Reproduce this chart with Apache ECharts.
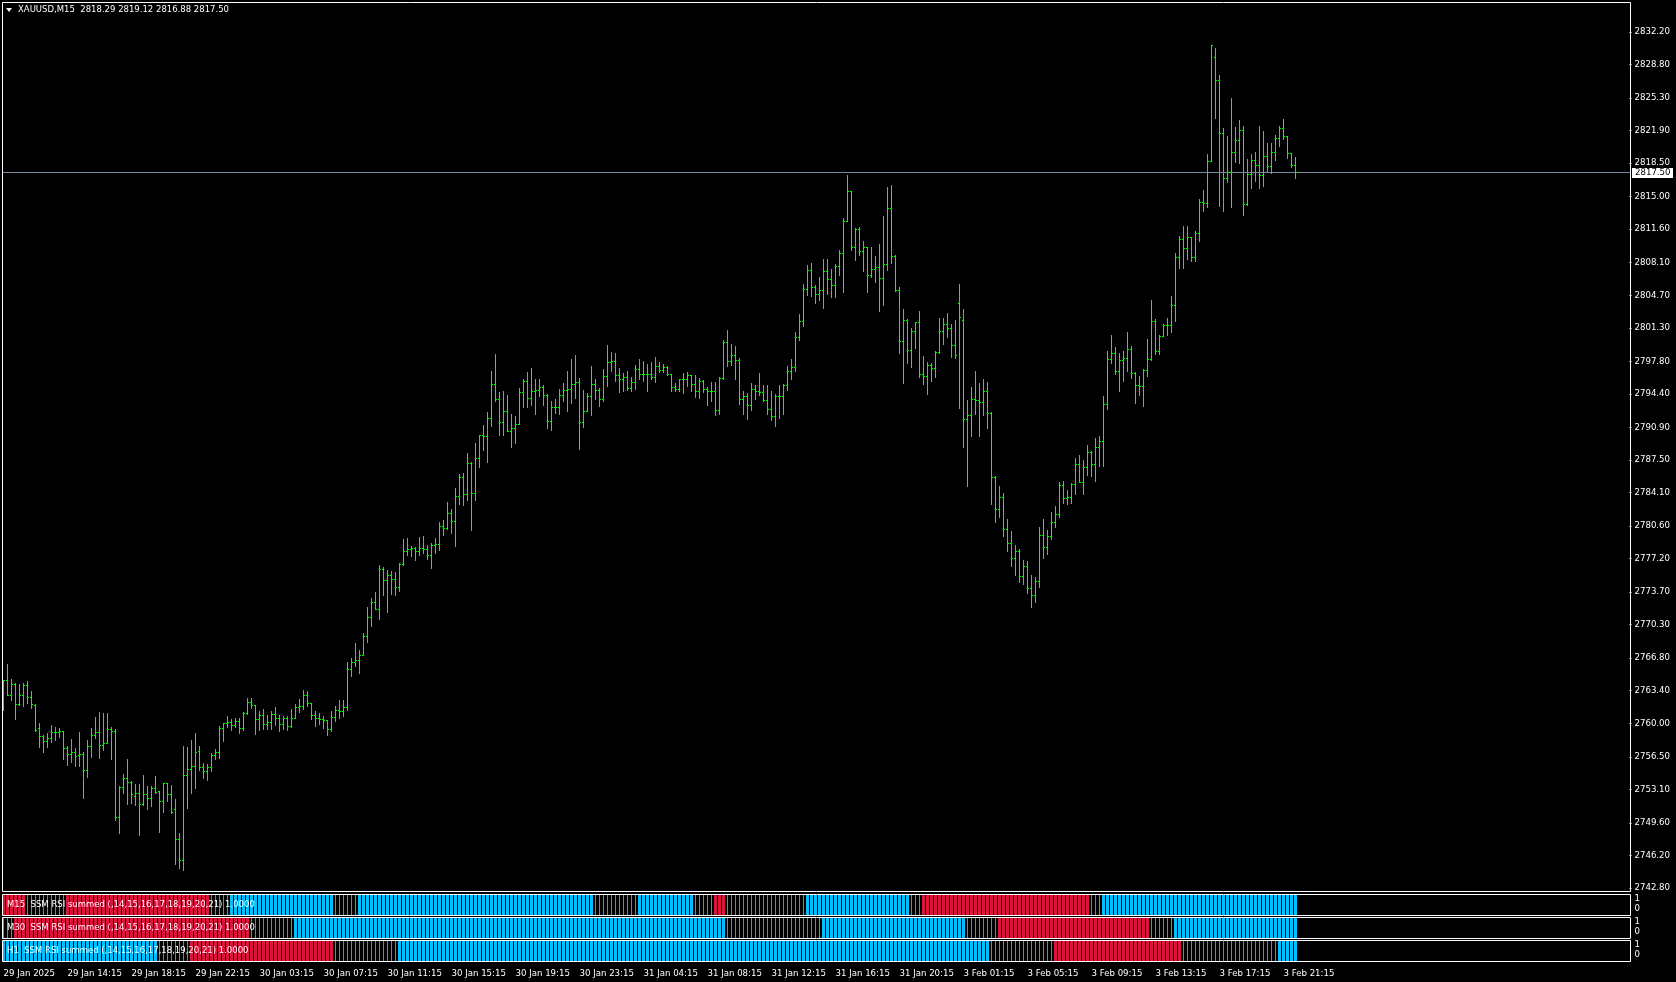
<!DOCTYPE html>
<html>
<head>
<meta charset="utf-8">
<script src="https://cdn.jsdelivr.net/npm/echarts@6.0.0/dist/echarts.min.js"></script>
<style>
html,body{margin:0;padding:0;background:#000;overflow:hidden}
#chart{width:1676px;height:982px}
</style>
</head>
<body>
<div id="chart"></div>
<script>
// ---------------- DATA ----------------
const symbolInfo = 'XAUUSD,M15  2818.29 2819.12 2816.88 2817.50';
const timeLabels = ['29 Jan 2025','29 Jan 14:15','29 Jan 18:15','29 Jan 22:15','30 Jan 03:15','30 Jan 07:15','30 Jan 11:15','30 Jan 15:15','30 Jan 19:15','30 Jan 23:15','31 Jan 04:15','31 Jan 08:15','31 Jan 12:15','31 Jan 16:15','31 Jan 20:15','3 Feb 01:15','3 Feb 05:15','3 Feb 09:15','3 Feb 13:15','3 Feb 17:15','3 Feb 21:15'];
const priceTickLabels = ['2742.80','2746.20','2749.60','2753.10','2756.50','2760.00','2763.40','2766.80','2770.30','2773.70','2777.20','2780.60','2784.10','2787.50','2790.90','2794.40','2797.80','2801.30','2804.70','2808.10','2811.60','2815.00','2818.50','2821.90','2825.30','2828.80','2832.20'];
const lastPrice = 2817.50;
const indicatorName = 'SSM RSI summed (,14,15,16,17,18,19,20,21) 1.0000';
const panelTimeframes = ['M15','M30','H1'];

const open = [
2762.4,2764.5,2762.9,2764.1,2762.0,2762.9,2763.9,2762.7,2761.9,2759.5,
2758.6,2758.1,2758.4,2759.0,2759.0,2759.1,2757.4,2756.7,2756.9,2756.6,
2756.7,2755.1,2757.6,2758.7,2759.0,2757.7,2757.9,2759.3,2759.1,2750.2,
2753.3,2754.2,2753.8,2752.4,2752.7,2751.5,2752.6,2752.1,2753.2,2752.9,
2751.8,2753.7,2752.6,2751.0,2747.9,2745.7,2754.5,2755.2,2755.5,2757.1,
2755.4,2755.0,2755.4,2756.6,2756.9,2759.5,2760.0,2760.1,2759.8,2760.2,
2759.5,2761.0,2762.2,2761.9,2760.4,2760.8,2759.9,2760.1,2760.9,2760.5,
2759.9,2760.5,2759.7,2760.5,2761.6,2761.8,2762.9,2762.1,2760.8,2760.5,
2760.4,2760.3,2759.3,2760.6,2761.3,2761.2,2761.6,2765.6,2766.4,2766.6,
2767.1,2769.1,2771.0,2772.6,2771.9,2776.1,2774.9,2775.4,2775.0,2774.2,
2776.6,2777.9,2778.2,2778.3,2777.9,2778.3,2778.1,2777.5,2778.6,2778.7,
2780.5,2780.3,2781.9,2781.1,2783.7,2785.7,2783.9,2787.1,2784.0,2787.7,
2790.1,2789.9,2791.8,2795.4,2793.8,2791.4,2792.6,2790.5,2790.8,2791.2,
2794.5,2795.7,2793.9,2794.7,2794.8,2795.1,2794.2,2791.5,2793.0,2793.0,
2794.2,2794.8,2794.9,2795.4,2795.6,2791.4,2792.6,2794.1,2795.4,2794.8,
2793.8,2796.2,2797.7,2797.8,2796.3,2795.9,2796.1,2795.0,2795.6,2797.0,
2796.4,2796.4,2796.4,2796.1,2797.3,2796.8,2797.2,2796.4,2795.1,2794.9,
2795.9,2795.9,2796.3,2795.4,2794.7,2795.7,2794.9,2794.6,2794.6,2792.7,
2796.0,2799.8,2797.8,2798.4,2797.9,2793.8,2794.1,2793.2,2794.9,2794.6,
2794.5,2793.7,2792.8,2792.0,2794.1,2794.1,2795.3,2796.7,2797.2,2800.3,
2802.0,2805.3,2807.3,2805.5,2804.8,2805.2,2807.2,2806.4,2805.7,2807.7,
2809.1,2812.4,2815.5,2809.7,2811.6,2809.3,2809.7,2806.8,2807.4,2807.6,
2806.5,2807.9,2813.8,2808.7,2805.2,2799.9,2802.1,2798.9,2800.9,2801.9,
2796.4,2796.2,2797.4,2797.1,2798.7,2800.9,2801.7,2801.2,2799.5,2803.8,
2802.1,2791.7,2792.1,2793.8,2793.7,2793.5,2794.7,2792.4,2785.7,2782.3,
2783.6,2780.2,2778.8,2777.2,2777.9,2775.3,2776.4,2774.1,2773.3,2774.8,
2779.6,2778.4,2779.5,2781.0,2781.8,2784.8,2783.5,2783.6,2784.9,2787.0,
2785.1,2786.7,2788.3,2787.0,2788.8,2789.4,2793.3,2798.0,2798.6,2796.7,
2797.9,2798.1,2799.0,2796.5,2795.3,2795.2,2796.8,2798.0,2802.0,2798.8,
2800.4,2801.5,2801.5,2803.6,2808.6,2810.5,2809.6,2810.7,2808.6,2811.2,
2814.4,2814.3,2818.7,2829.5,2827.1,2821.6,2816.9,2817.5,2819.6,2820.9,
2821.9,2814.2,2817.3,2818.8,2818.3,2817.2,2819.2,2818.2,2819.6,2821.1,
2822.1,2821.3,2819.5,2818.29];
const high = [
2764.5,2766.1,2764.6,2764.2,2764.0,2764.2,2764.4,2763.3,2762.0,2760.0,
2758.7,2758.9,2759.8,2759.6,2759.5,2759.1,2757.6,2758.3,2757.4,2759.0,
2756.9,2758.2,2759.5,2760.6,2761.1,2761.0,2761.0,2759.6,2759.3,2753.4,
2754.6,2756.2,2753.9,2753.6,2753.6,2754.5,2753.4,2753.4,2754.4,2752.9,
2753.7,2753.7,2753.5,2752.0,2748.5,2757.6,2757.5,2758.2,2758.9,2757.6,
2755.8,2755.7,2756.8,2757.3,2759.7,2760.0,2760.7,2760.4,2760.5,2760.5,
2761.1,2762.6,2762.6,2761.9,2761.2,2761.4,2760.8,2761.2,2761.6,2760.8,
2760.7,2760.7,2761.4,2762.0,2762.5,2763.4,2763.3,2762.1,2761.2,2761.0,
2760.7,2760.3,2761.2,2761.8,2762.4,2762.4,2766.4,2766.8,2768.3,2767.6,
2769.4,2772.1,2773.0,2773.7,2776.5,2776.3,2776.0,2775.9,2775.7,2776.7,
2779.2,2779.3,2778.5,2778.4,2779.4,2779.5,2778.6,2778.8,2779.3,2781.0,
2781.2,2783.1,2782.3,2784.5,2786.0,2786.1,2788.2,2787.2,2789.2,2790.1,
2791.1,2792.5,2796.7,2798.5,2794.5,2794.6,2794.2,2792.2,2792.0,2795.0,
2795.9,2796.6,2797.1,2795.9,2795.9,2795.3,2794.3,2793.6,2793.8,2794.9,
2795.5,2796.7,2798.0,2798.4,2796.0,2794.8,2794.4,2797.3,2795.9,2795.0,
2796.9,2799.5,2798.7,2798.6,2797.1,2796.5,2796.7,2796.1,2797.4,2798.0,
2797.8,2797.5,2797.7,2798.2,2797.7,2797.5,2797.3,2796.4,2795.5,2795.9,
2796.5,2796.6,2796.3,2796.3,2796.0,2795.8,2795.1,2795.6,2795.6,2796.1,
2800.0,2801.0,2799.6,2799.4,2798.1,2794.7,2794.4,2795.5,2795.3,2796.5,
2795.3,2795.3,2794.7,2794.3,2795.3,2795.4,2797.3,2798.0,2800.8,2802.7,
2805.8,2807.8,2808.0,2805.7,2806.6,2808.4,2808.4,2807.4,2807.9,2809.4,
2812.7,2817.2,2815.5,2811.7,2811.8,2810.3,2809.7,2809.7,2808.7,2810.0,
2812.9,2816.0,2816.2,2808.9,2805.5,2803.2,2802.2,2801.2,2801.9,2803.0,
2798.3,2797.7,2797.6,2798.8,2802.3,2802.3,2802.8,2801.6,2802.1,2805.8,
2803.2,2793.7,2795.1,2796.7,2795.5,2795.9,2795.6,2792.5,2785.8,2784.7,
2784.0,2781.3,2780.0,2778.6,2778.2,2777.0,2776.9,2775.4,2775.2,2780.4,
2781.3,2780.1,2782.0,2782.6,2785.1,2785.2,2784.3,2785.0,2787.7,2788.0,
2787.4,2789.0,2788.4,2789.7,2790.0,2794.1,2798.8,2800.5,2799.2,2798.6,
2798.8,2800.8,2799.3,2796.6,2796.2,2796.9,2800.1,2804.2,2802.2,2800.5,
2801.6,2802.3,2804.6,2809.1,2810.8,2811.9,2811.9,2810.7,2811.4,2814.7,
2815.6,2819.4,2830.8,2830.5,2827.7,2822.1,2821.3,2825.3,2822.2,2823.0,
2822.3,2818.9,2819.4,2819.6,2822.3,2821.8,2820.6,2820.5,2821.4,2822.3,
2823.1,2821.3,2819.5,2819.12];
const low = [
2761.3,2762.9,2762.4,2760.4,2761.9,2761.8,2762.1,2761.5,2759.1,2757.5,
2757.0,2757.5,2758.0,2758.2,2758.5,2756.2,2755.6,2755.9,2755.5,2755.5,
2752.1,2754.3,2756.4,2758.4,2756.3,2757.2,2757.9,2756.2,2749.8,2748.5,
2752.7,2751.5,2751.6,2751.4,2748.3,2751.4,2751.0,2751.3,2752.7,2748.6,
2750.7,2751.8,2750.6,2745.3,2744.8,2744.6,2751.1,2752.7,2753.2,2755.1,
2754.2,2754.0,2755.0,2756.2,2756.3,2758.1,2759.6,2759.2,2759.6,2758.9,
2759.2,2760.9,2761.5,2758.8,2759.2,2759.4,2759.4,2759.4,2759.8,2759.1,
2759.4,2759.2,2759.6,2760.5,2761.1,2761.4,2761.8,2760.4,2759.7,2759.9,
2759.5,2758.7,2759.1,2760.2,2760.5,2760.7,2761.3,2764.9,2765.9,2765.2,
2767.1,2768.4,2770.1,2771.9,2770.8,2773.3,2771.6,2773.5,2773.3,2773.8,
2776.5,2777.5,2777.4,2777.0,2777.5,2777.7,2777.1,2776.2,2777.7,2778.0,
2779.6,2780.2,2779.8,2778.5,2782.9,2782.7,2783.3,2780.1,2783.3,2786.7,
2788.5,2787.2,2791.0,2793.6,2790.1,2790.1,2790.5,2788.8,2789.2,2791.2,
2793.0,2793.0,2793.2,2792.2,2794.1,2793.2,2790.8,2790.6,2792.4,2792.2,
2793.6,2792.6,2793.4,2793.9,2788.6,2790.9,2792.6,2792.1,2793.8,2793.1,
2793.6,2795.2,2796.7,2795.7,2794.5,2794.6,2794.8,2794.6,2794.9,2795.9,
2795.7,2794.7,2795.9,2795.6,2796.6,2796.6,2796.3,2794.6,2794.7,2794.7,
2794.4,2795.2,2794.7,2794.0,2793.9,2794.5,2793.2,2793.6,2792.1,2792.2,
2795.9,2797.3,2797.4,2795.9,2793.3,2792.3,2791.7,2792.7,2793.8,2794.2,
2793.6,2792.2,2791.6,2791.0,2791.8,2792.3,2794.8,2795.9,2796.7,2800.0,
2801.4,2804.7,2804.6,2803.8,2804.2,2803.3,2804.8,2804.5,2804.5,2806.8,
2805.0,2812.4,2809.4,2808.3,2808.9,2807.2,2805.0,2806.6,2806.0,2803.0,
2803.6,2807.3,2808.0,2805.1,2798.6,2795.5,2797.6,2797.2,2799.1,2796.1,
2795.4,2794.3,2795.7,2796.1,2798.6,2799.6,2800.3,2798.2,2798.1,2792.9,
2788.8,2784.7,2789.9,2792.3,2790.0,2792.1,2790.8,2782.8,2781.0,2781.5,
2779.5,2777.9,2776.4,2775.4,2774.7,2774.5,2773.6,2772.1,2772.6,2774.2,
2777.2,2777.6,2779.2,2780.4,2781.5,2783.0,2782.8,2783.0,2783.9,2785.1,
2783.9,2785.9,2785.8,2785.3,2786.8,2786.8,2792.8,2797.6,2796.4,2794.6,
2795.7,2796.7,2796.0,2793.4,2794.2,2793.1,2796.2,2797.9,2798.5,2798.5,
2800.4,2800.5,2800.8,2802.0,2807.5,2807.5,2808.4,2808.2,2808.2,2810.3,
2813.4,2813.9,2818.7,2823.2,2814.0,2813.5,2816.5,2813.9,2818.6,2818.5,
2813.0,2814.1,2815.9,2816.6,2815.9,2816.1,2817.6,2817.4,2818.8,2820.2,
2821.0,2819.0,2818.0,2816.88];
const close = [
2764.5,2762.9,2764.1,2762.0,2762.9,2763.9,2762.7,2762.0,2759.2,2758.6,
2758.1,2758.4,2759.0,2759.0,2759.1,2757.4,2756.7,2756.9,2756.5,2756.7,
2755.1,2757.6,2758.7,2759.0,2757.7,2757.9,2759.3,2759.1,2750.2,2753.3,
2754.2,2753.8,2752.6,2752.7,2751.5,2752.6,2752.1,2753.2,2752.8,2751.8,
2753.7,2752.6,2750.7,2747.9,2745.7,2754.5,2755.2,2755.5,2756.9,2755.4,
2755.0,2755.4,2756.6,2756.9,2759.5,2760.0,2760.1,2759.8,2760.2,2759.5,
2761.0,2762.2,2761.9,2760.4,2760.8,2759.9,2760.1,2760.9,2760.5,2759.9,
2760.5,2759.7,2760.5,2761.6,2761.8,2762.9,2762.1,2760.8,2760.5,2760.4,
2760.3,2759.3,2760.6,2761.3,2761.2,2761.6,2765.6,2766.4,2766.6,2767.1,
2769.1,2771.0,2772.6,2771.9,2776.1,2774.9,2775.4,2775.0,2774.2,2776.6,
2777.9,2778.2,2778.3,2777.9,2778.3,2778.1,2777.5,2778.6,2778.7,2780.5,
2780.3,2781.9,2781.1,2783.7,2785.7,2783.9,2787.1,2784.0,2787.7,2790.1,
2789.9,2791.8,2795.4,2793.8,2791.4,2792.6,2790.5,2790.8,2791.2,2794.5,
2795.7,2793.9,2794.7,2794.8,2795.1,2794.2,2791.5,2793.0,2793.0,2794.2,
2794.8,2794.9,2795.4,2795.6,2791.4,2792.6,2794.1,2795.4,2794.8,2793.8,
2796.2,2797.7,2797.8,2796.3,2795.9,2796.1,2795.0,2795.6,2797.0,2796.4,
2796.4,2796.4,2796.1,2797.3,2796.8,2797.2,2796.4,2795.1,2794.9,2795.9,
2795.9,2796.3,2795.4,2794.7,2795.7,2794.9,2794.6,2794.6,2792.7,2796.0,
2799.8,2797.8,2798.4,2797.9,2793.8,2794.1,2793.2,2794.9,2794.6,2794.5,
2793.7,2792.8,2792.0,2794.1,2794.1,2795.3,2796.7,2797.2,2800.3,2802.0,
2805.3,2807.3,2805.5,2804.8,2805.2,2807.2,2806.4,2805.7,2807.7,2809.1,
2812.4,2815.5,2809.7,2811.6,2809.3,2809.7,2806.8,2807.4,2807.6,2806.5,
2807.9,2813.8,2808.7,2805.2,2799.9,2802.1,2798.9,2800.9,2801.9,2796.4,
2796.2,2797.4,2797.1,2798.7,2800.9,2801.7,2801.2,2799.5,2798.4,2802.4,
2791.7,2792.1,2793.8,2793.7,2793.5,2794.7,2792.4,2785.7,2782.3,2783.6,
2780.2,2778.8,2777.2,2777.9,2775.3,2776.4,2774.1,2773.3,2774.8,2779.6,
2778.4,2779.5,2781.0,2781.8,2784.8,2783.5,2783.6,2784.9,2787.0,2785.1,
2786.7,2788.3,2787.0,2788.8,2789.4,2793.3,2798.0,2798.6,2796.7,2797.9,
2798.1,2799.0,2796.5,2795.3,2795.2,2796.8,2798.0,2802.0,2798.8,2800.4,
2801.5,2801.5,2803.6,2808.6,2810.5,2809.6,2810.7,2808.6,2811.2,2814.4,
2814.3,2818.7,2830.8,2827.1,2821.6,2816.9,2817.5,2819.6,2820.9,2821.9,
2814.2,2817.3,2818.8,2818.3,2817.2,2819.2,2818.2,2819.6,2821.1,2822.1,
2821.3,2819.5,2818.3,2817.50];

// indicator state runs: u = up (blue), d = down (red), n = neutral; [state, number of bars]
const m15Runs = [['d',6],['n',10],['d',36],['n',5],['u',26],['n',6],['u',59],['n',11],['u',14],['n',5],['d',3],['n',20],['u',26],['n',3],['d',42],['n',3],['u',49]];
const m30Runs = [['n',3],['d',59],['n',11],['u',108],['n',24],['u',36],['n',8],['d',38],['n',6],['u',31]];
const h1Runs  = [['u',39],['n',8],['d',36],['n',16],['u',148],['n',16],['d',32],['n',24],['u',5]];

// ---------------- STYLE / LAYOUT ----------------
const FONT = 'DejaVu Sans';
const AXIS_FONT_SIZE = 8.6;
const BAR_GREEN = '#00ff00';
const UP_BLUE = '#00bfff', DOWN_RED = '#dc143c', NEUTRAL = '#808080';
const SLOTS = 407;            // bar slots across the chart width (incl. right shift)
const PRICE_MIN = 2742.38, PRICE_MAX = 2835.33;

const cats = [];
for (let i = 0; i < SLOTS; i++) cats.push((i % 16 === 0 && i / 16 < timeLabels.length) ? timeLabels[i / 16] : '');
const showIdx = (idx) => idx % 16 === 0 && idx / 16 < timeLabels.length;
const priceTickValues = priceTickLabels.map(Number);

function expandRuns(runs) {
  const out = []; let i = 0;
  runs.forEach(([s, n]) => { for (let k = 0; k < n; k++) out.push([i++, s === 'u' ? 1 : (s === 'd' ? 2 : 0)]); });
  return out;
}
const ohlcData = open.map((o, i) => [i, o, high[i], low[i], close[i]]);

const grids = [
  { left: 1.5, top: 2, width: 1628, height: 890 },
  { left: 1.5, top: 895, width: 1628, height: 20 },
  { left: 1.5, top: 918, width: 1628, height: 20 },
  { left: 1.5, top: 941, width: 1628, height: 20 }
];

const xAxes = grids.map((g, k) => ({
  type: 'category', gridIndex: k, data: cats, boundaryGap: true,
  axisLine: { show: false },
  axisTick: k === 3 ? { show: true, alignWithLabel: true, interval: (idx) => showIdx(idx), length: 4, lineStyle: { color: '#fff', width: 1 } } : { show: false },
  axisLabel: k === 3 ? { show: true, interval: (idx) => showIdx(idx), align: 'left', color: '#fff', fontSize: AXIS_FONT_SIZE, fontFamily: FONT, margin: 8 } : { show: false },
  splitLine: { show: false }
}));

const yAxes = [{
  type: 'value', gridIndex: 0, position: 'right', min: PRICE_MIN, max: PRICE_MAX,
  axisLine: { show: false }, splitLine: { show: false },
  axisTick: { show: true, length: 2, customValues: priceTickValues, lineStyle: { color: '#fff' } },
  axisLabel: { show: true, customValues: priceTickValues, formatter: (v) => Number(v).toFixed(2), color: '#fff', fontSize: AXIS_FONT_SIZE, fontFamily: FONT, margin: 5 }
}];
for (let k = 1; k <= 3; k++) {
  yAxes.push({
    type: 'value', gridIndex: k, position: 'right', min: -0.6, max: 1.4,
    axisLine: { show: false }, splitLine: { show: false }, axisTick: { show: false },
    axisLabel: { show: true, customValues: [0, 1], formatter: (v) => String(Math.round(v)), color: '#fff', fontSize: AXIS_FONT_SIZE, fontFamily: FONT, margin: 5 }
  });
}

function ohlcRender(params, api) {
  const i = api.value(0);
  const o = api.coord([i, api.value(1)]), h = api.coord([i, api.value(2)]);
  const l = api.coord([i, api.value(3)]), c = api.coord([i, api.value(4)]);
  const x = Math.floor(o[0]);
  const yH = Math.floor(h[1]), yL = Math.floor(l[1]);
  const yO = Math.floor(o[1]), yC = Math.floor(c[1]);
  const top = Math.min(yH, yO, yC), bot = Math.max(yL, yO, yC);
  return { type: 'group', children: [
    { type: 'rect', shape: { x: x, y: top, width: 1, height: bot - top + 1 }, style: { fill: BAR_GREEN } },
    { type: 'rect', shape: { x: x - 1, y: yO, width: 1, height: 1 }, style: { fill: BAR_GREEN } },
    { type: 'rect', shape: { x: x + 1, y: yC, width: 1, height: 1 }, style: { fill: BAR_GREEN } }
  ]};
}

function histRender(params, api) {
  const i = api.value(0), s = api.value(1);
  const p = api.coord([i, 0]);
  const cs = params.coordSys;
  const x = Math.floor(p[0]);
  if (s === 0) {
    return { type: 'rect', shape: { x: x, y: cs.y, width: 1, height: cs.height }, style: { fill: NEUTRAL } };
  }
  return { type: 'rect', shape: { x: x - 1, y: cs.y, width: 3, height: cs.height }, style: { fill: s === 1 ? UP_BLUE : DOWN_RED } };
}

function priceLineRender(params, api) {
  const cs = params.coordSys;
  const y = Math.floor(api.coord([0, api.value(1)])[1]);
  return { type: 'rect', shape: { x: cs.x + 0.5, y: y, width: cs.width, height: 1 }, style: { fill: '#778899' } };
}
function priceBoxRender(params, api) {
  const cs = params.coordSys;
  const y = Math.floor(api.coord([0, api.value(1)])[1]);
  const x0 = Math.round(cs.x + cs.width) + 2;
  return { type: 'group', children: [
    { type: 'rect', shape: { x: x0, y: y - 4, width: 41, height: 10 }, style: { fill: '#ffffff' } },
    { type: 'text', x: x0 + 3, y: y + 1, style: { text: api.value(1).toFixed(2), fill: '#000', font: AXIS_FONT_SIZE + 'px "' + FONT + '"', verticalAlign: 'middle', align: 'left' } }
  ]};
}

const frames = [[2, 2, 1628, 889], [2, 894, 1628, 21], [2, 917, 1628, 21], [2, 940, 1628, 21]];
const graphics = frames.map(([x, y, w, h]) => ({
  type: 'rect', silent: true, z: 50,
  shape: { x: x + 0.5, y: y + 0.5, width: w, height: h },
  style: { fill: null, stroke: '#ffffff', lineWidth: 1 }
}));
graphics.push({ type: 'polygon', z: 50, shape: { points: [[6, 8], [12, 8], [9, 12]] }, style: { fill: '#ffffff' } });
graphics.push({ type: 'text', z: 50, x: 18, y: 10, style: { text: symbolInfo, fill: '#ffffff', font: '8.5px "' + FONT + '"', verticalAlign: 'middle' } });
panelTimeframes.forEach((tf, k) => {
  graphics.push({ type: 'text', z: 50, x: 7, y: grids[k + 1].top + 10, style: { text: tf + '  ' + indicatorName, fill: '#ffffff', font: '8.5px "' + FONT + '"', verticalAlign: 'middle' } });
});

const series = [
  { type: 'custom', name: 'priceLine', xAxisIndex: 0, yAxisIndex: 0, z: 1, renderItem: priceLineRender, data: [[0, lastPrice]], encode: { x: 0, y: 1 }, silent: true },
  { type: 'custom', name: 'XAUUSD', xAxisIndex: 0, yAxisIndex: 0, z: 2, renderItem: ohlcRender, data: ohlcData, encode: { x: 0, y: [1, 2, 3, 4] }, silent: true },
  { type: 'custom', name: 'priceBox', xAxisIndex: 0, yAxisIndex: 0, z: 60, renderItem: priceBoxRender, data: [[0, lastPrice]], encode: { x: 0, y: 1 }, silent: true }
];
[m15Runs, m30Runs, h1Runs].forEach((runs, k) => {
  series.push({ type: 'custom', name: panelTimeframes[k], xAxisIndex: k + 1, yAxisIndex: k + 1, renderItem: histRender, data: expandRuns(runs), encode: { x: 0, y: 1 }, silent: true });
});

const chart = echarts.init(document.getElementById('chart'), null, { renderer: 'canvas', width: 1676, height: 982 });
chart.setOption({
  backgroundColor: '#000000',
  animation: false,
  grid: grids.map(g => Object.assign({ show: false, containLabel: false }, g)),
  xAxis: xAxes,
  yAxis: yAxes,
  graphic: graphics,
  series: series
});
</script>
</body>
</html>
